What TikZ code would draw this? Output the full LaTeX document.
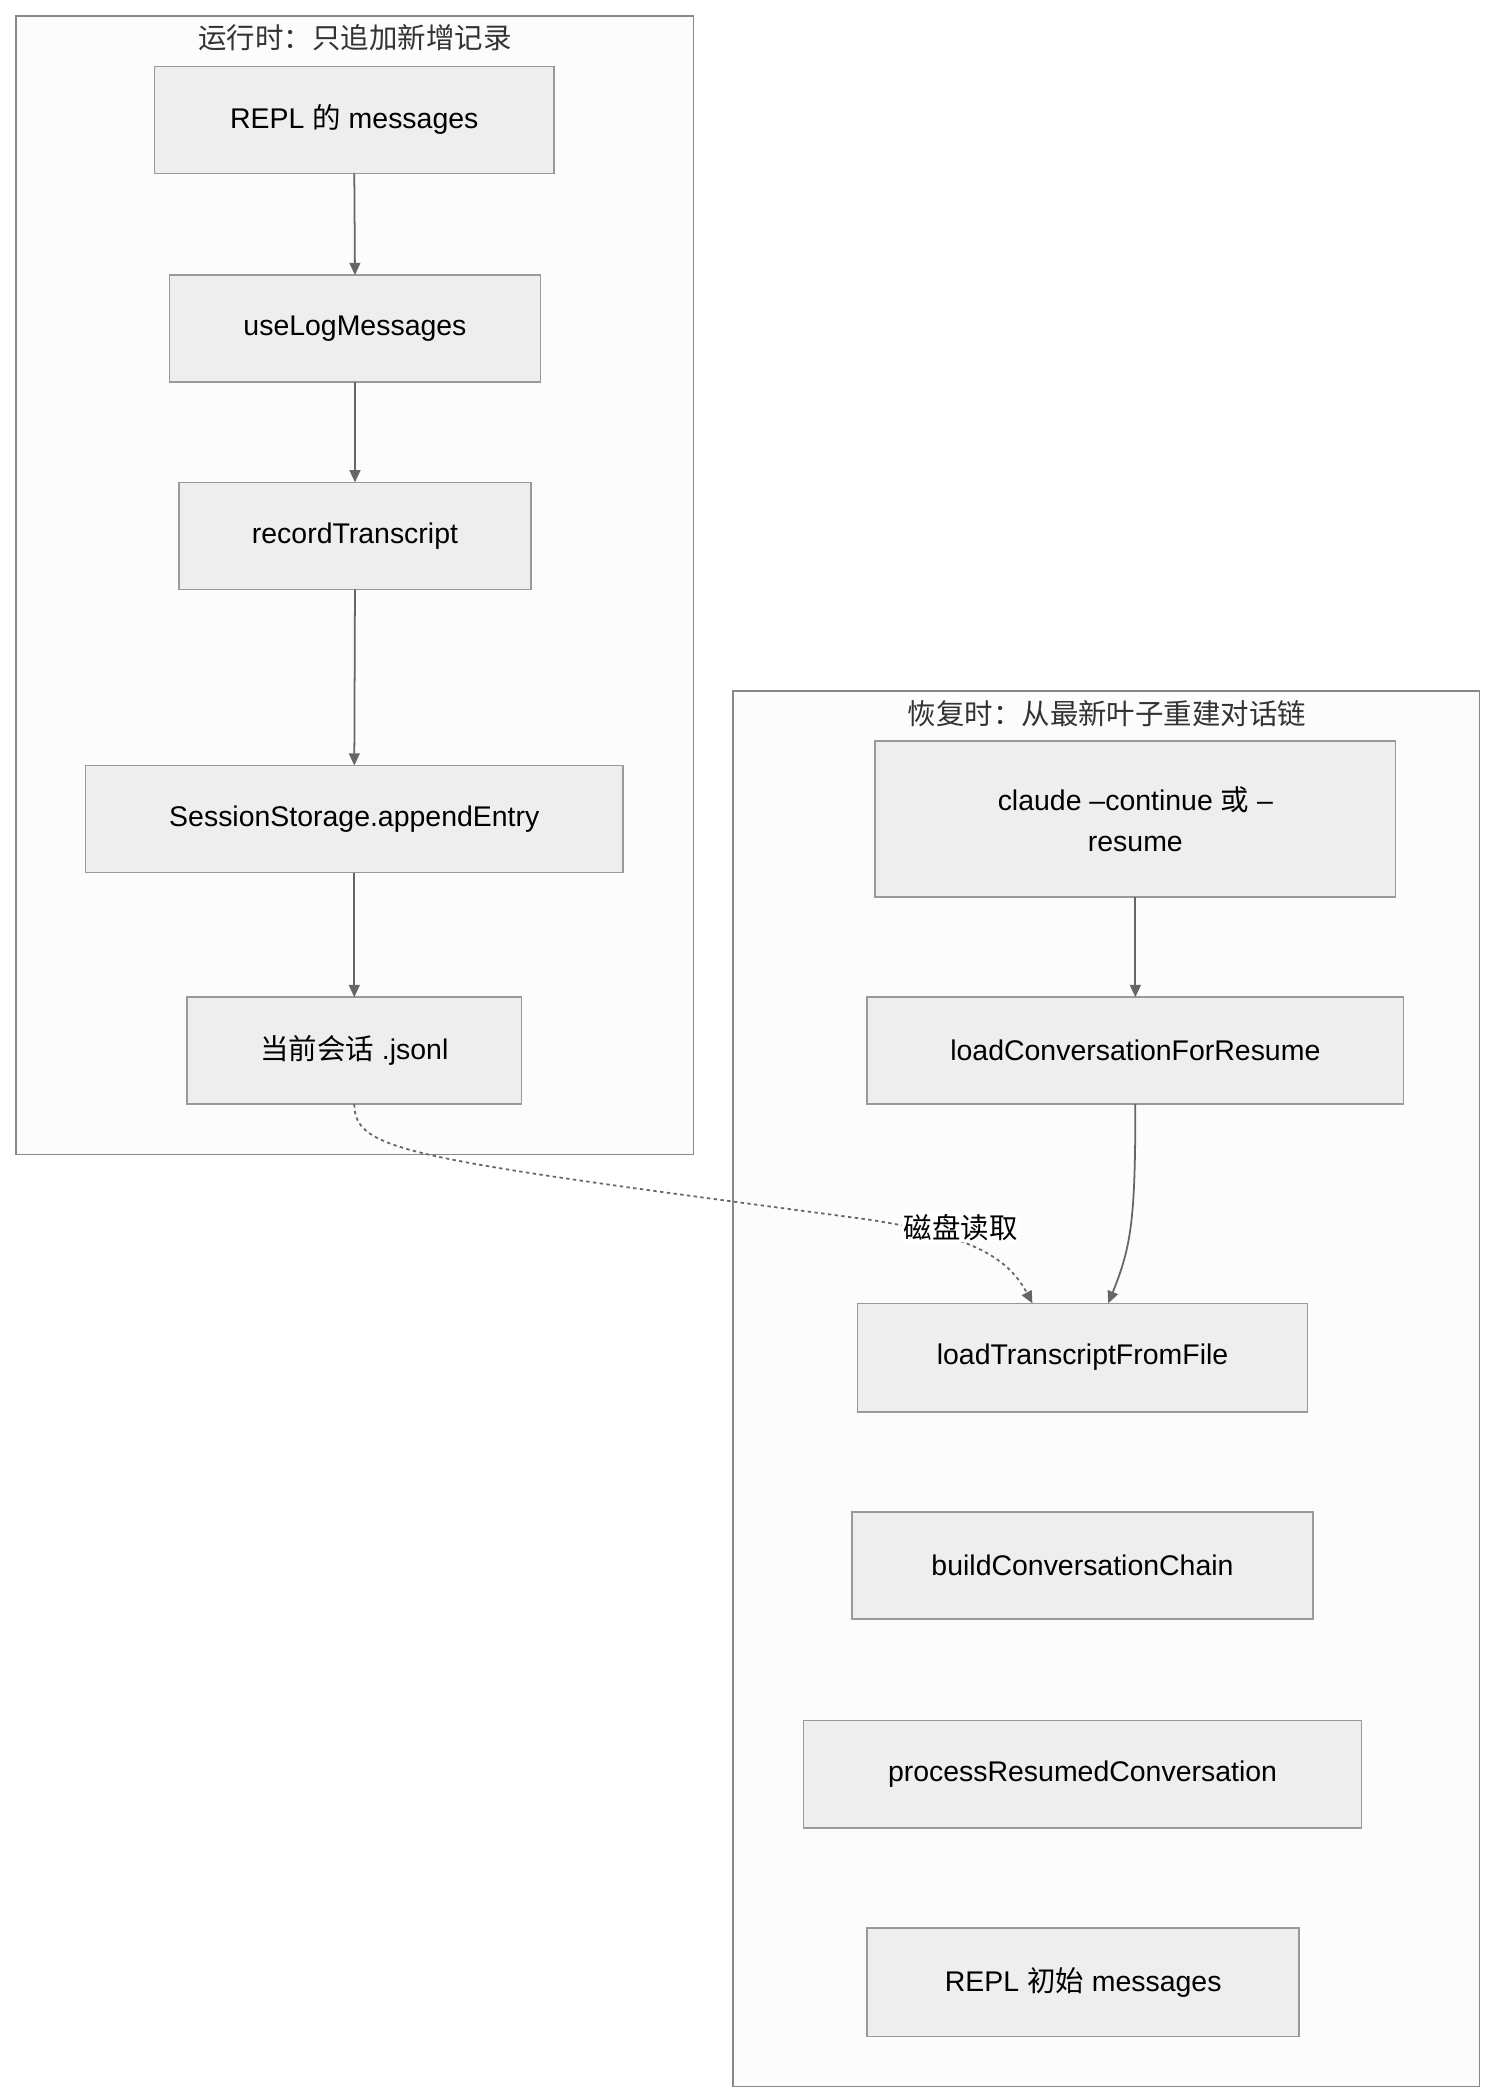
\documentclass[tikz,border=0pt]{standalone}
\usepackage{fontspec}
\setmainfont{Liberation Sans}
\newfontfamily\cjk{Noto Sans CJK SC}
\usetikzlibrary{arrows.meta}
\definecolor{nfill}{HTML}{EEEEEE}
\definecolor{nborder}{HTML}{999999}
\definecolor{cfill}{HTML}{FCFCFC}
\definecolor{cborder}{HTML}{888888}
\definecolor{edge}{HTML}{666666}
\begin{document}
\begin{tikzpicture}[x=1pt,y=-1pt,
  box/.style={draw=nborder,fill=nfill,line width=1.2pt},
  cl/.style={draw=cborder,fill=cfill,line width=1.2pt},
  lbl/.style={font=\fontsize{21}{30}\selectfont,text=black,align=center},
  ttl/.style={font=\fontsize{21}{26}\selectfont\cjk,text=black!80},
  arr/.style={draw=edge,line width=1.3pt,-{Triangle[length=9pt,width=8pt]}}]
\useasboundingbox[fill=white] (0,0) rectangle (1104,1550);
\draw[cl] (12,12) rectangle (512,852);
\node[ttl] (t1) at (262,28) {运行时：只追加新增记录};
\draw[cl] (541,510) rectangle (1092,1540);
\node[ttl] (t2) at (817,527) {恢复时：从最新叶子重建对话链};
\newcommand{\bx}[6]{\draw[box] (#2,#3) rectangle (#4,#5);
  \node[lbl] (#1) at ({(#2+#4)/2},{(#3+#5)/2}) {#6};
  \coordinate (#1t) at ({(#2+#4)/2},#3); \coordinate (#1b) at ({(#2+#4)/2},#5);}
\bx{A}{114}{49}{409}{128}{REPL {\cjk 的} messages}
\bx{B}{125}{203}{399}{282}{useLogMessages}
\bx{C}{132}{356}{392}{435}{recordTranscript}
\bx{D}{63}{565}{460}{644}{SessionStorage.appendEntry}
\bx{E}{138}{736}{385}{815}{{\cjk 当前会话} .jsonl}
\bx{F}{646}{547}{1030}{662}{claude --continue {\cjk 或} --\\resume}
\bx{G}{640}{736}{1036}{815}{loadConversationForResume}
\bx{H}{633}{962}{965}{1042}{loadTranscriptFromFile}
\bx{I}{629}{1116}{969}{1195}{buildConversationChain}
\bx{J}{593}{1270}{1005}{1349}{processResumedConversation}
\bx{K}{640}{1423}{959}{1503}{REPL {\cjk 初始} messages}
\draw[arr] (Ab) -- (Bt);
\draw[arr] (Bb) -- (Ct);
\draw[arr] (Cb) -- (Dt);
\draw[arr] (Db) -- (Et);
\draw[arr] (Fb) -- (Gt);
\coordinate (Hl) at (818,962);
\draw[arr] (Gb) .. controls (838,900) and (835,920) .. (Hl);
\coordinate (Hd) at (762,962);
\draw[arr,dashed,dash pattern=on 2.5pt off 2.5pt] (Eb) .. controls (262,850) and (300,855) .. (640,900) .. controls (720,912) and (745,930) .. (Hd);
\node[fill=white,inner sep=1pt,font=\fontsize{21}{26}\selectfont\cjk] (lab) at (709,906) {磁盘读取};
\end{tikzpicture}
\end{document}
